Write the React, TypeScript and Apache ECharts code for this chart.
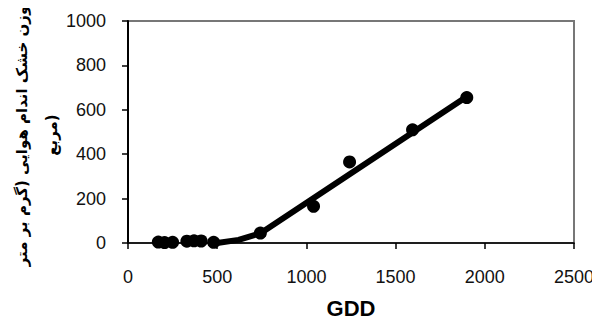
import React, { useEffect, useRef } from "react";
import * as echarts from "echarts";

const gdd = [170, 205, 250, 330, 370, 410, 480, 742, 1040, 1242, 1595, 1899];
const dryMatter = [4, 2, 3, 8, 10, 9, 3, 45, 165, 365, 510, 655];
const fitGdd = [500, 620, 745, 1900];
const fitDm = [0, 14, 45, 660];
const xTicks = [0, 500, 1000, 1500, 2000, 2500];
const yTicks = [0, 200, 400, 600, 800, 1000];
const yTitle1 = "وزن خشک اندام هوایی (گرم بر متر";
const yTitle2 = "مربع)";
const xTitle = "GDD";

export default function App() {
  const ref = useRef<HTMLDivElement>(null);
  useEffect(() => {
    const chart = echarts.init(ref.current!, null, { renderer: "svg" });
    chart.setOption({
      animation: false,
      grid: {
        left: 128,
        right: 26,
        top: 21,
        bottom: 82,
        show: true,
        borderColor: "#777",
        borderWidth: 2,
      },
      xAxis: {
        type: "value",
        min: xTicks[0],
        max: xTicks[xTicks.length - 1],
        interval: 500,
        splitLine: { show: false },
        axisLine: { show: true, onZero: false, lineStyle: { color: "#000", width: 1.5 } },
        axisTick: { show: true, length: 6, lineStyle: { color: "#000", width: 1.5 } },
        axisLabel: {
          color: "#111",
          fontFamily: "Liberation Sans",
          fontSize: 18,
          margin: 25,
          formatter: (v: number) => String(v),
        },
        name: xTitle,
        nameLocation: "middle",
        nameGap: 54,
        nameTextStyle: { fontFamily: "Liberation Sans", fontWeight: "bold", fontSize: 22, color: "#000" },
      },
      yAxis: {
        type: "value",
        min: yTicks[0],
        max: yTicks[yTicks.length - 1],
        interval: 200,
        splitLine: { show: false },
        axisLine: { show: true, onZero: false, lineStyle: { color: "#000", width: 2 } },
        axisTick: { show: true, length: 6, lineStyle: { color: "#000", width: 1.5 } },
        axisLabel: {
          color: "#111",
          fontFamily: "Liberation Sans",
          fontSize: 18,
          margin: 22,
          formatter: (v: number) => String(v),
        },
      },
      graphic: [
        {
          type: "text",
          x: 22,
          y: 136,
          rotation: Math.PI / 2,
          style: {
            text: yTitle1,
            fontFamily: "DejaVu Sans",
            fontWeight: "bold",
            fontSize: 15,
            fill: "#000",
            align: "center",
            verticalAlign: "middle",
          },
        },
        {
          type: "text",
          x: 52,
          y: 135,
          rotation: Math.PI / 2,
          style: {
            text: yTitle2,
            fontFamily: "DejaVu Sans",
            fontWeight: "bold",
            fontSize: 15,
            fill: "#000",
            align: "center",
            verticalAlign: "middle",
          },
        },
      ],
      series: [
        {
          type: "line",
          data: fitGdd.map((g, i) => [g, fitDm[i]]),
          showSymbol: false,
          symbol: "none",
          lineStyle: { color: "#000", width: 6 },
          z: 2,
        },
        {
          type: "scatter",
          data: gdd.map((g, i) => [g, dryMatter[i]]),
          symbol: "circle",
          symbolSize: 13,
          itemStyle: { color: "#000", opacity: 1 },
          z: 3,
        },
      ],
    });
    return () => chart.dispose();
  }, []);
  return <div ref={ref} style={{ width: 600, height: 325, margin: -8 }} />;
}
